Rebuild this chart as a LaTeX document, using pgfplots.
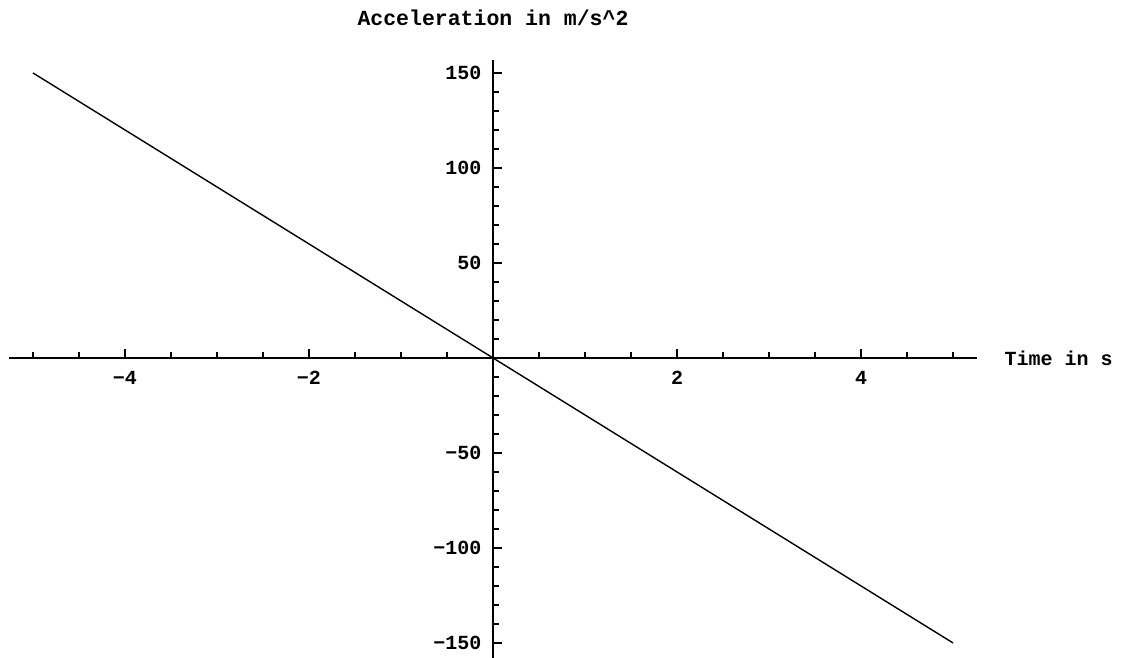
\documentclass[border=0pt]{standalone}
\usepackage{pgfplots}
\pgfplotsset{compat=1.18}
\usepackage{fontspec}
\setmainfont{Liberation Mono}

% acceleration a(t) = -30 t, sampled once per second
\pgfplotstableread{
t a
-5 150
-4 120
-3 90
-2 60
-1 30
0 0
1 -30
2 -60
3 -90
4 -120
5 -150
}\acceldata

\begin{document}
\begin{tikzpicture}
\path[use as bounding box] (0,0) rectangle (1125pt,658pt);
\begin{axis}[
  at={(9pt,0pt)}, anchor=south west,
  scale only axis, width=968pt, height=598pt,
  xmin=-5.26, xmax=5.26, ymin=-157.9, ymax=156.8,
  axis lines=middle,
  axis line style={-, line width=1.8pt},
  clip=false,
  font=\fontsize{20}{24}\selectfont\bfseries,
  tick align=inside,
  major tick length=9pt, minor tick length=6pt,
  every tick/.style={black, line width=1.5pt},
  xtick={-4,-2,2,4},
  xticklabels={−4,−2,2,4},
  minor xtick={-5,-4.5,...,5},
  ytick={-150,-100,-50,50,100,150},
  yticklabels={−150,−100,−50,50,100,150},
  minor ytick={-150,-140,...,150},
  xticklabel style={font=\fontsize{20}{24}\selectfont\bfseries, yshift=-10pt},
  yticklabel style={font=\fontsize{20}{24}\selectfont\bfseries, xshift=-8pt},
  xlabel={Time in s},
  xlabel style={at={(current axis.right of origin)}, anchor=west, xshift=24pt},
  title={Acceleration in m/s\^{}2},
  title style={at={(0.5,1)}, anchor=center, yshift=36pt,
    font=\fontsize{21.5}{25}\selectfont\bfseries},
]
\addplot[black, line width=1.4pt] table[x=t, y=a] {\acceldata};
\end{axis}
\end{tikzpicture}
\end{document}
